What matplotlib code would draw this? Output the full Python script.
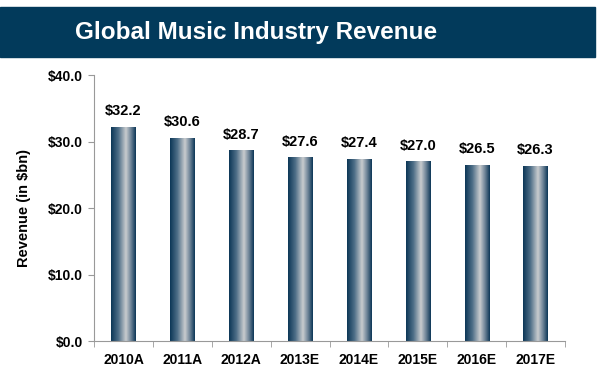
import numpy as np
import matplotlib.pyplot as plt
from matplotlib.colors import LinearSegmentedColormap
from matplotlib.patches import Rectangle

# === Data ===
years = ["2010A", "2011A", "2012A", "2013E", "2014E", "2015E", "2016E", "2017E"]
revenue = [32.2, 30.6, 28.7, 27.6, 27.4, 27.0, 26.5, 26.3]
yticks = [0, 10, 20, 30, 40]

NAVY = "#023a5b"
plt.rcParams["font.family"] = ["Liberation Sans", "DejaVu Sans"]

fig = plt.figure(figsize=(6, 3.77), dpi=100)

# title banner
fig.patches.append(Rectangle((0, 1 - 57 / 377), 595 / 600, 50 / 377,
                             transform=fig.transFigure, color=NAVY, zorder=0))
fig.text(256 / 600, 1 - 33 / 377, "Global Music Industry Revenue", color="white",
         fontsize=17.5, fontweight="bold", ha="center", va="center")

ax = fig.add_axes([94 / 600, 1 - 341 / 377, (565 - 94) / 600, (341 - 75) / 377])

# cylinder-like gradient for bars
cmap = LinearSegmentedColormap.from_list(
    "cyl", [(0, "#0b3656"), (0.3, "#4f6f88"), (0.6, "#c9cccf"), (0.8, "#6f8598"), (1, "#0b3656")])
grad = np.linspace(0, 1, 256).reshape(1, -1)

x = np.arange(len(years))
width = 0.41
bars = ax.bar(x, revenue, width=width, color="none", edgecolor="none")
for b, v in zip(bars, revenue):
    x0 = b.get_x()
    im = ax.imshow(grad, cmap=cmap, aspect="auto", extent=[x0, x0 + width, 0, v],
                   interpolation="bilinear", zorder=2)
    im.set_clip_path(b)
    ax.text(b.get_x() + width / 2, v + 1.3, f"${v:.1f}", ha="center", va="bottom",
            fontsize=10.5, fontweight="bold")

ax.set_xlim(-0.5, len(years) - 0.5)
ax.set_ylim(0, 40)
ax.set_yticks(yticks)
ax.set_yticklabels([f"${t:.1f}" for t in yticks], fontsize=10, fontweight="bold")
ax.set_xticks(x)
ax.set_xticklabels(years, fontsize=10, fontweight="bold")
ax.set_xticks(np.arange(-0.5, len(years)), minor=True)
ax.tick_params(axis="x", which="major", length=0, pad=9)
ax.tick_params(axis="x", which="minor", length=4, color="#999999")
ax.tick_params(axis="y", length=4, color="#999999", pad=4)
ax.set_ylabel("Revenue (in $bn)", fontsize=10.5, fontweight="bold", labelpad=12)

for s in ["top", "right"]:
    ax.spines[s].set_visible(False)
for s in ["left", "bottom"]:
    ax.spines[s].set_color("#999999")

fig.savefig("out.png", dpi=100)
